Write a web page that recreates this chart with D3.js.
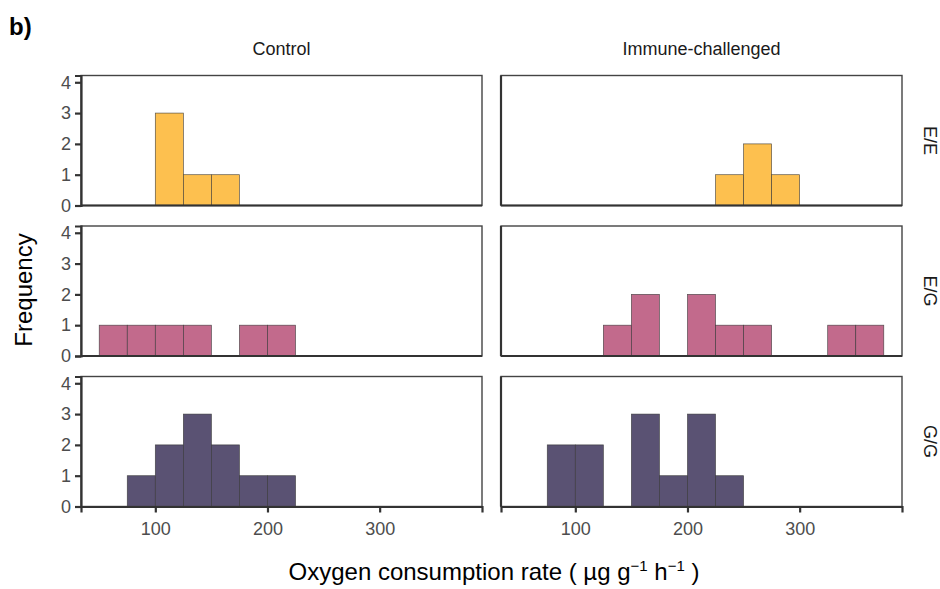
<!DOCTYPE html>
<html>
<head>
<meta charset="utf-8">
<script src="https://cdn.jsdelivr.net/npm/d3@7"></script>
<style>
  body { margin: 0; background: #fff; }
  text { font-family: "Liberation Sans", Arial, sans-serif; }
</style>
</head>
<body>
<div id="chart"></div>
<script>
var svgWidth = 940;
var svgHeight = 589;

// facet labels
var treatments = ["Control", "Immune-challenged"];
var genotypes = ["E/E", "E/G", "G/G"];
var genotypeColors = ["#fdc04f", "#c26a8c", "#5a5273"];

// histogram bins (left edge, width 25) and counts per panel
var binWidth = 25;
var counts = {
  "Control|E/E": [[100, 3], [125, 1], [150, 1]],
  "Immune-challenged|E/E": [[225, 1], [250, 2], [275, 1]],
  "Control|E/G": [[50, 1], [75, 1], [100, 1], [125, 1], [175, 1], [200, 1]],
  "Immune-challenged|E/G": [[125, 1], [150, 2], [200, 2], [225, 1], [250, 1], [325, 1], [350, 1]],
  "Control|G/G": [[75, 1], [100, 2], [125, 3], [150, 2], [175, 1], [200, 1]],
  "Immune-challenged|G/G": [[75, 2], [100, 2], [150, 3], [175, 1], [200, 3], [225, 1]]
};

var xTicks = [100, 200, 300];
var yTicks = [0, 1, 2, 3, 4];

var panelLeft = [81, 501];
var panelTop = [75.5, 226, 376.5];
var panelW = 401;
var panelH = 130;

var svg = d3.select("#chart")
  .append("svg")
  .attr("width", svgWidth)
  .attr("height", svgHeight);

var xScale = d3.scaleLinear()
  .domain([33.75, 391.25])
  .range([0, panelW]);

var yScale = d3.scaleLinear()
  .domain([0, 4.22])
  .range([panelH, 0]);

treatments.forEach(function(tr, c) {
  genotypes.forEach(function(gt, r) {
    var g = svg.append("g")
      .attr("transform", `translate(${panelLeft[c]}, ${panelTop[r]})`);

    var bins = counts[tr + "|" + gt];

    g.selectAll("rect.bar")
      .data(bins)
      .enter()
      .append("rect")
      .attr("class", "bar")
      .attr("x", d => xScale(d[0]))
      .attr("width", d => xScale(d[0] + binWidth) - xScale(d[0]))
      .attr("y", d => yScale(d[1]))
      .attr("height", d => yScale(0) - yScale(d[1]))
      .attr("fill", genotypeColors[r])
      .attr("stroke", "#333")
      .attr("stroke-opacity", 0.8)
      .attr("stroke-width", 0.7);

    // panel border
    g.append("rect")
      .attr("width", panelW)
      .attr("height", panelH)
      .attr("fill", "none")
      .attr("stroke", "#444")
      .attr("stroke-width", 1.4);

    // y axis only on left column
    if (c === 0) {
      var leftAxis = d3.axisLeft(yScale).tickValues(yTicks).tickFormat(d3.format("d")).tickSize(6).tickPadding(4);
      var ya = g.append("g").call(leftAxis);
      ya.select(".domain").attr("stroke", "#333").attr("stroke-width", 2.2);
      ya.selectAll(".tick line").attr("stroke", "#333").attr("stroke-width", 2.2);
      ya.selectAll(".tick text")
        .attr("fill", "#4d4d4d")
        .style("font-size", "18px");
    } else {
      g.append("line")
        .attr("x1", 0).attr("x2", 0)
        .attr("y1", 0).attr("y2", panelH)
        .attr("stroke", "#333").attr("stroke-width", 2.2);
    }

    // bottom axis line on every panel, ticks only on bottom row
    if (r === genotypes.length - 1) {
      var bottomAxis = d3.axisBottom(xScale).tickValues(xTicks).tickSize(6).tickPadding(10);
      var xa = g.append("g")
        .attr("transform", `translate(0, ${panelH})`)
        .call(bottomAxis);
      xa.select(".domain").attr("stroke", "#333").attr("stroke-width", 2.2);
      xa.selectAll(".tick line").attr("stroke", "#333").attr("stroke-width", 2.2);
      xa.selectAll(".tick text")
        .attr("fill", "#4d4d4d")
        .style("font-size", "18px");
    } else {
      g.append("line")
        .attr("x1", 0).attr("x2", panelW)
        .attr("y1", panelH).attr("y2", panelH)
        .attr("stroke", "#333").attr("stroke-width", 2.2);
    }

    // top strip labels
    if (r === 0) {
      g.append("text")
        .attr("x", panelW / 2)
        .attr("y", -21)
        .attr("text-anchor", "middle")
        .attr("fill", "#1a1a1a")
        .style("font-size", "18px")
        .text(tr);
    }

    // right strip labels
    if (c === treatments.length - 1) {
      g.append("text")
        .attr("transform", `translate(${panelW + 28}, ${panelH / 2}) rotate(90)`)
        .attr("text-anchor", "middle")
        .attr("dy", "0.35em")
        .attr("fill", "#1a1a1a")
        .style("font-size", "18px")
        .text(gt);
    }
  });
});

// panel tag
svg.append("text")
  .attr("x", 9)
  .attr("y", 35)
  .style("font-size", "24px")
  .style("font-weight", "bold")
  .text("b)");

// y axis title
svg.append("text")
  .attr("transform", `translate(32, 290) rotate(-90)`)
  .attr("text-anchor", "middle")
  .style("font-size", "24px")
  .attr("fill", "#000")
  .text("Frequency");

// x axis title with superscripts
var xTitle = svg.append("text")
  .attr("x", 494)
  .attr("y", 580)
  .attr("text-anchor", "middle")
  .style("font-size", "24px")
  .attr("fill", "#000");
xTitle.append("tspan").text("Oxygen consumption rate ( \u00b5g g");
xTitle.append("tspan").attr("dy", -9).style("font-size", "15px").text("\u22121");
xTitle.append("tspan").attr("dy", 9).text(" h");
xTitle.append("tspan").attr("dy", -9).style("font-size", "15px").text("\u22121");
xTitle.append("tspan").attr("dy", 9).text(" )");
</script>
</body>
</html>
